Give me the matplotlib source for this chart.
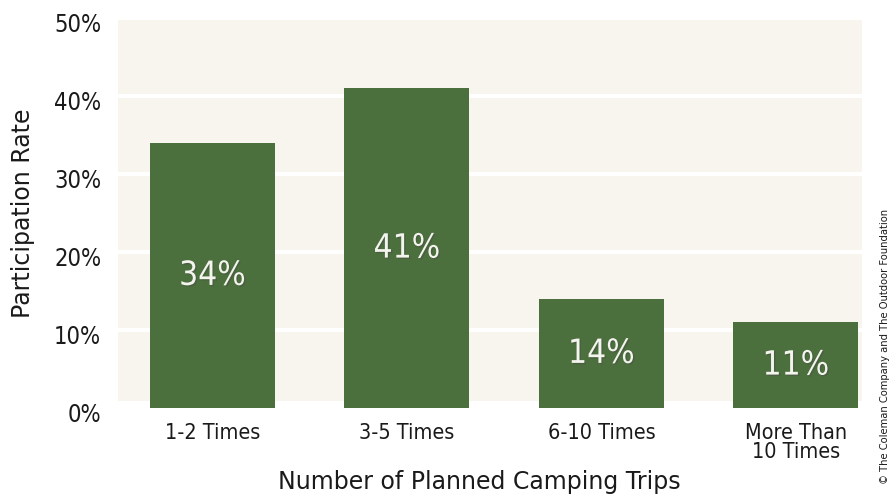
import matplotlib.pyplot as plt
from matplotlib.patches import Rectangle
import matplotlib.patheffects as pe
import matplotlib.transforms as mtransforms

categories = ['1-2 Times', '3-5 Times', '6-10 Times', 'More Than\n10 Times']
rates = [34, 41, 14, 11]
yticks = [0, 10, 20, 30, 40, 50]

bar_color = '#4b6f3d'
bg_color = '#f8f5ee'
txt = '#1a1a1a'
narrow = dict(family='DejaVu Sans', stretch='condensed')

fig = plt.figure(figsize=(8.95, 4.97), dpi=100)
ax = fig.add_axes([0.1318, 0.1791, 0.8313, 0.7847])
ax.set_facecolor('none')
ax.set_xlim(-0.486, 3.34)
ax.set_ylim(0, 50)

# beige panel behind the bars
ax.add_patch(Rectangle((-0.486, 0.9), 3.826, 48.9, facecolor=bg_color,
                       edgecolor='none', zorder=0))
for y in yticks[1:-1]:
    ax.axhline(y, color='white', lw=3, zorder=1)

x = range(len(categories))
ax.bar(x, rates, width=0.643, color=bar_color, zorder=2)
for xi, r in zip(x, rates):
    ax.text(xi, r / 2, f'{r}%', ha='center', va='center',
            color='#f4f4ee', fontsize=24, zorder=3, **narrow,
            path_effects=[pe.withSimplePatchShadow(offset=(1, -1), alpha=0.4)])

for s in ax.spines.values():
    s.set_visible(False)
ax.tick_params(length=0)
ax.set_yticks(yticks)
ax.set_yticklabels([f'{t}%' for t in yticks], fontsize=17, color=txt, **narrow)
ax.tick_params(axis='y', pad=12)
ax.set_xticks(list(x))
ax.set_xticklabels(categories, fontsize=15.5, color=txt, linespacing=0.9,
                   **narrow)
ax.tick_params(axis='x', pad=11)
# y tick labels sit a few pixels below their gridline in the original
shift = mtransforms.ScaledTranslation(0, -5 / 100, fig.dpi_scale_trans)
for lab in ax.get_yticklabels():
    lab.set_transform(lab.get_transform() + shift)

fig.text(0.536, 0.03, 'Number of Planned Camping Trips', ha='center',
         va='center', fontsize=17, color=txt)
ax.set_ylabel('Participation Rate', fontsize=17, color=txt, labelpad=14)

fig.text(0.989, 0.302, '© The Coleman Company and The Outdoor Foundation',
         rotation=90, ha='center', va='center', fontsize=7.2, color=txt)

fig.savefig('out.png', dpi=100)
